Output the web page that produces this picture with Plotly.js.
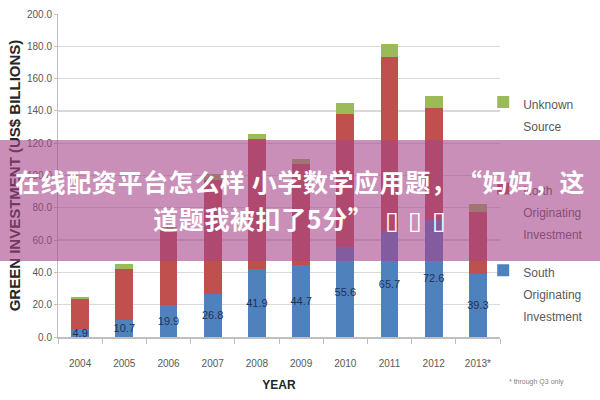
<!DOCTYPE html>
<html>
<head>
<meta charset="utf-8">
<script src="https://cdn.plot.ly/plotly-3.0.1.min.js"></script>
<style>
  html, body { margin: 0; padding: 0; background: #fff; }
  #wrap { position: relative; width: 600px; height: 400px; overflow: hidden; }
  #chart { width: 600px; height: 400px; }
  #banner {
    position: absolute; left: 0; top: 140px; width: 600px; height: 121px;
    background: rgba(165, 68, 137, 0.6);
    color: #fff; text-align: center;
    font-family: 'Noto Sans CJK SC', 'Noto Sans', sans-serif; font-weight: bold;
    font-size: 25px; line-height: 37px; box-sizing: border-box; padding-top: 23px;
    white-space: nowrap; letter-spacing: 0.6px;
  }
  #banner .q { padding-left: 13px; }
  #banner .boxes { word-spacing: 3px; font-weight: normal; padding-left: 2px; }
</style>
</head>
<body>
<div id="wrap">
  <div id="chart"></div>
  <div id="banner" lang="zh-CN">在线配资平台怎么样 小学数学应用题，<span class="q">“</span>妈妈，这<br>道题我被扣了5分”<span class="boxes"> ▯ ▯ ▯</span></div>
</div>
<script>
// ---- data (US$ billions) ----
var years = ['2004', '2005', '2006', '2007', '2008', '2009', '2010', '2011', '2012', '2013*'];
var southValues = [4.9, 10.7, 19.9, 26.8, 41.9, 44.7, 55.6, 65.7, 72.6, 39.3];
var northValues = [18.4, 31.3, 46.0, 70.2, 80.4, 62.5, 82.5, 107.5, 69.0, 38.4];
var unknownValues = [1.7, 3.0, 2.5, 4.0, 3.1, 3.0, 6.6, 8.2, 7.8, 4.7];
var seriesNames = ['South<br>Originating<br>Investment', 'North<br>Originating<br>Investment', 'Unknown<br>Source'];
var yTickVals = [0, 20, 40, 60, 80, 100, 120, 140, 160, 180, 200];

var FONT = "'Liberation Sans', Arial, sans-serif";

function legendName(n) {
  return n.split('<br>').map(function (s) {
    return '<span style="font-size:12px">' + s + '</span>';
  }).join('<br>');
}

var traces = [
  {
    type: 'bar', x: years, y: southValues, name: legendName(seriesNames[0]),
    marker: { color: '#4f81bd' }, legend: 'legend3',
    text: southValues.map(function (v) { return v.toFixed(1); }),
    textposition: 'inside', insidetextanchor: 'middle', textangle: 0,
    constraintext: 'none', cliponaxis: false,
    insidetextfont: { family: FONT, size: 11, color: '#1f3357' }
  },
  {
    type: 'bar', x: years, y: northValues, name: legendName(seriesNames[1]),
    marker: { color: '#c0504d' }, legend: 'legend2', textposition: 'none'
  },
  {
    type: 'bar', x: years, y: unknownValues, name: legendName(seriesNames[2]),
    marker: { color: '#9bbb59' }, legend: 'legend', textposition: 'none'
  }
];

function mkLegend(y) {
  return {
    x: 0.962, xanchor: 'left', y: y, yanchor: 'top', valign: 'top',
    bgcolor: 'rgba(0,0,0,0)', borderwidth: 0,
    font: { family: FONT, size: 17, color: '#595959' }
  };
}

var layout = {
  width: 600, height: 400,
  margin: { l: 58, r: 97, t: 14, b: 63 },
  paper_bgcolor: '#ffffff', plot_bgcolor: '#ffffff',
  barmode: 'stack', bargap: 0.6,
  font: { family: FONT, color: '#595959' },
  showlegend: true,
  legend: mkLegend(0.782),
  legend2: mkLegend(0.514),
  legend3: mkLegend(0.261),
  xaxis: {
    type: 'category',
    showline: true, linecolor: '#bfbfbf', linewidth: 1.5,
    ticks: 'outside', tickson: 'boundaries', ticklen: 5, tickcolor: '#bfbfbf',
    tickfont: { family: FONT, size: 10, color: '#595959' },
    ticklabelstandoff: 16,
    showgrid: false, zeroline: false,
    title: { text: 'YEAR', font: { family: FONT, size: 12, color: '#262626', weight: 'bold' }, standoff: 13 }
  },
  yaxis: {
    range: [0, 200], tickvals: yTickVals, tickformat: '.1f',
    showline: true, linecolor: '#bfbfbf', linewidth: 1,
    ticks: 'outside', ticklen: 3, tickcolor: '#bfbfbf',
    tickfont: { family: FONT, size: 10, color: '#595959' },
    showgrid: true, gridcolor: '#d9d9d9', gridwidth: 1.3, zeroline: false,
    title: { text: 'GREEN INVESTMENT (US$ BILLIONS)', font: { family: FONT, size: 15, color: '#262626', weight: 'bold' }, standoff: 2 }
  },
  annotations: [
    {
      xref: 'paper', yref: 'paper', x: 1.083, y: -0.138, xanchor: 'center', yanchor: 'middle',
      text: '* through Q3 only', showarrow: false,
      font: { family: FONT, size: 7, color: '#7f7f7f' }
    }
  ]
};

Plotly.newPlot('chart', traces, layout, { staticPlot: true, displayModeBar: false });
</script>
</body>
</html>
